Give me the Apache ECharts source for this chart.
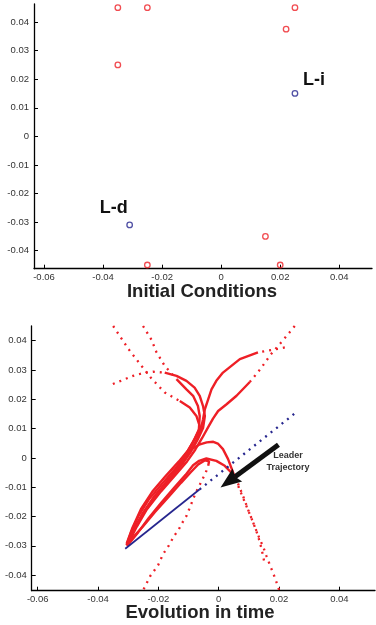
<!DOCTYPE html>
<html><head><meta charset="utf-8">
<script src="https://cdn.jsdelivr.net/npm/echarts@6/dist/echarts.min.js"></script>
<style>html,body{margin:0;padding:0;background:#fff}#c{width:376px;height:625px}</style>
</head><body><div id="c"></div>
<script>
// ---------- data ----------
const xTicks = [-0.06, -0.04, -0.02, 0, 0.02, 0.04];
const yTicks = [-0.04, -0.03, -0.02, -0.01, 0, 0.01, 0.02, 0.03, 0.04];
const panelTitles = ['Initial Conditions', 'Evolution in time'];

const followersInitial = [[-0.035,0.045],[-0.025,0.045],[0.025,0.045],[0.022,0.0375],[-0.035,0.025],[0.015,-0.035],[-0.025,-0.045],[0.02,-0.045]];
const leaderInitial = [[0.025,0.015],[-0.031,-0.031]];
const leaderNames = ['L-i', 'L-d'];

const leaderPathSparse = [[0.025,0.015],[-0.0063,-0.0107]];
const leaderPathDense = [[-0.0063,-0.0107],[-0.031,-0.031]];

const trajASparse = [[-0.035,0.045],[-0.0299,0.0371],[-0.0256,0.0314],[-0.0223,0.0271],[-0.0179,0.0223],[-0.0129,0.0194]];
const trajADense = [[-0.0129,0.0194],[-0.0096,0.0172],[-0.0074,0.0143],[-0.0062,0.0105],[-0.0078,0.0068],[-0.0102,0.0025],[-0.0132,-0.0012],[-0.0176,-0.0062],[-0.022,-0.0115],[-0.0258,-0.0175],[-0.0286,-0.0238],[-0.0305,-0.0292]];
const trajBSparse = [[-0.0251,0.045],[-0.0223,0.0403],[-0.0207,0.0362],[-0.0179,0.0314],[-0.014,0.0269]];
const trajBDense = [[-0.014,0.0269],[-0.0107,0.0234],[-0.0085,0.0212],[-0.0069,0.0177],[-0.0063,0.0143],[-0.0066,0.0095],[-0.0085,0.0055],[-0.0108,0.0015],[-0.0142,-0.0035],[-0.0188,-0.0088],[-0.0232,-0.0142],[-0.0266,-0.0198],[-0.0291,-0.0255],[-0.0305,-0.0295]];
const trajCSparse = [[-0.0351,0.0252],[-0.0317,0.0266],[-0.0284,0.028],[-0.0251,0.0289],[-0.0218,0.0294],[-0.0179,0.0291]];
const trajCDense = [[-0.0179,0.0291],[-0.014,0.028],[-0.0107,0.0263],[-0.008,0.024],[-0.0063,0.0212],[-0.0052,0.0177],[-0.0046,0.0143],[-0.0052,0.0102],[-0.007,0.0062],[-0.0092,0.0022],[-0.012,-0.002],[-0.0162,-0.0072],[-0.0208,-0.0128],[-0.025,-0.019],[-0.0282,-0.0248],[-0.0304,-0.0296]];
const trajDSparse = [[0.0252,0.045],[0.0216,0.0405],[0.0171,0.0351],[0.0138,0.0303],[0.0103,0.0259]];
const trajDDense = [[0.0103,0.0259],[0.0059,0.0212],[0.0026,0.0183],[-0.0002,0.016],[-0.0019,0.0134],[-0.0035,0.0105],[-0.0055,0.0068],[-0.0078,0.0028],[-0.0105,-0.0012],[-0.0145,-0.006],[-0.0192,-0.0115],[-0.0238,-0.0175],[-0.0272,-0.0235],[-0.0298,-0.0288],[-0.0306,-0.0299]];
const trajESparse = [[0.0219,0.0377],[0.018,0.0369],[0.013,0.036]];
const trajEDense = [[0.013,0.036],[0.007,0.0337],[0.0042,0.0314],[0.0014,0.0291],[-0.0008,0.0263],[-0.0024,0.0234],[-0.0035,0.02],[-0.0046,0.0166],[-0.0052,0.0132],[-0.006,0.0095],[-0.0075,0.0058],[-0.0098,0.0018],[-0.0125,-0.0022],[-0.0168,-0.0075],[-0.0213,-0.013],[-0.0254,-0.0192],[-0.0284,-0.0252],[-0.0304,-0.0297]];
const trajFSparse = [[0.015,-0.035],[0.0142,-0.031],[0.013,-0.0265],[0.0114,-0.022],[0.0098,-0.018],[0.0082,-0.014],[0.0068,-0.0105],[0.0057,-0.0075]];
const trajFDense = [[0.0057,-0.0075],[0.0044,-0.004],[0.0031,-0.0004],[0.0014,0.003],[-0.0003,0.0049],[-0.0018,0.0055],[-0.004,0.0053],[-0.0065,0.0045],[-0.009,0.003],[-0.011,0.0005],[-0.0135,-0.0035],[-0.0175,-0.0088],[-0.022,-0.0145],[-0.026,-0.0205],[-0.0288,-0.026],[-0.0305,-0.0298]];
const trajGSparse = [[0.02,-0.045],[0.0186,-0.0408],[0.0171,-0.0369],[0.0158,-0.0334],[0.0147,-0.0302],[0.0136,-0.0277],[0.0125,-0.0249],[0.0112,-0.0215],[0.0098,-0.0178],[0.0085,-0.0142],[0.0072,-0.0108],[0.006,-0.0078]];
const trajGDense = [[0.006,-0.0078],[0.0046,-0.0055],[0.002,-0.0027],[-0.0008,-0.001],[-0.0041,-0.0002],[-0.0065,-0.001],[-0.0085,-0.0025],[-0.011,-0.0058],[-0.0148,-0.0102],[-0.019,-0.0152],[-0.0232,-0.0205],[-0.0268,-0.0255],[-0.0302,-0.0298]];
const trajHSparse = [[-0.0249,-0.0448],[-0.0227,-0.0403],[-0.0201,-0.0366],[-0.0185,-0.0329],[-0.0165,-0.0298],[-0.0149,-0.0268],[-0.0132,-0.0243],[-0.012,-0.022],[-0.0107,-0.0198],[-0.0098,-0.0175],[-0.0085,-0.0141],[-0.0076,-0.0118],[-0.0065,-0.0096],[-0.0054,-0.0073],[-0.0043,-0.005],[-0.0035,-0.0027]];
const trajHDense = [[-0.0035,-0.0027],[-0.0032,-0.0012],[-0.0045,-0.0008],[-0.0068,-0.0022],[-0.0092,-0.0048],[-0.0125,-0.0085],[-0.0168,-0.0135],[-0.0212,-0.0185],[-0.0252,-0.0235],[-0.0285,-0.0272],[-0.0303,-0.0299]];

const arrowTail = [0.0198, 0.0045];
const arrowTip = [0.0006, -0.0101];
const arrowText = ['Leader', 'Trajectory'];

// ---------- chart ----------
const RED = '#ee1f26', BLUE = '#26268e', FONT = '"Liberation Sans", Arial, sans-serif';
const chart = echarts.init(document.getElementById('c'), null, {renderer: 'canvas'});
const fmt = v => String(+v.toFixed(4));

function xAxis(gi, min, max) {
  return {gridIndex: gi, type: 'value', min, max,
    axisLine: {show: true, onZero: false, lineStyle: {color: '#000', width: 1.3}},
    axisTick: {show: true, inside: true, length: 4, customValues: xTicks, lineStyle: {color: '#000', width: 1}},
    axisLabel: {customValues: xTicks, fontSize: 9.5, color: '#333', margin: 4, fontFamily: FONT, formatter: fmt},
    splitLine: {show: false}};
}
function yAxis(gi, min, max) {
  return {gridIndex: gi, type: 'value', min, max,
    axisLine: {show: true, onZero: false, lineStyle: {color: '#000', width: 1.3}},
    axisTick: {show: true, inside: true, length: 4, customValues: yTicks, lineStyle: {color: '#000', width: 1}},
    axisLabel: {customValues: yTicks, fontSize: 9.5, color: '#333', margin: 5, fontFamily: FONT, formatter: fmt},
    splitLine: {show: false}};
}
function sparse(data, color) {
  return {type: 'line', xAxisIndex: 1, yAxisIndex: 1, data, symbol: 'none', showSymbol: false, silent: true,
    lineStyle: {color: color || RED, width: 2.3, type: [2, 5]}, z: 3};
}
function dense(data, color, w) {
  return {type: 'line', xAxisIndex: 1, yAxisIndex: 1, data, symbol: 'none', showSymbol: false, silent: true,
    lineStyle: {color: color || RED, width: w || 2.4, type: 'solid'}, z: 3};
}

const trajs = [[trajASparse, trajADense],[trajBSparse, trajBDense],[trajCSparse, trajCDense],[trajDSparse, trajDDense],
  [trajESparse, trajEDense],[trajFSparse, trajFDense],[trajGSparse, trajGDense],[trajHSparse, trajHDense]];
const series = [];
series.push({type: 'scatter', xAxisIndex: 0, yAxisIndex: 0, data: followersInitial, symbol: 'circle', symbolSize: 5.5,
  itemStyle: {color: 'rgba(0,0,0,0)', borderColor: RED, borderWidth: 1.3}, silent: true});
series.push({type: 'scatter', xAxisIndex: 0, yAxisIndex: 0, symbol: 'circle', symbolSize: 5.5,
  itemStyle: {color: 'rgba(0,0,0,0)', borderColor: BLUE, borderWidth: 1.3}, silent: true, data: leaderInitial});
trajs.forEach(t => { series.push(sparse(t[0])); series.push(dense(t[1])); });
series.push(Object.assign(sparse(leaderPathSparse, BLUE), {z: 4}));
series.push(Object.assign(dense(leaderPathDense, BLUE, 1.7), {z: 4}));

chart.setOption({
  animation: false,
  grid: [
    {left: 34, top: 4, width: 338, height: 264.7, containLabel: false, outerBoundsMode: 'none'},
    {left: 31.7, top: 326, width: 343.3, height: 264.7, containLabel: false, outerBoundsMode: 'none'}
  ],
  xAxis: [xAxis(0, -0.0634, 0.0511), xAxis(1, -0.062, 0.0518)],
  yAxis: [yAxis(0, -0.0463, 0.0463), yAxis(1, -0.0453, 0.045)],
  series
});

// annotations
const labelOffsets = [[19, -13], [-16, -17]];
const leaderLabelGraphics = leaderInitial.map((p, i) => {
  const q = chart.convertToPixel({xAxisIndex: 0, yAxisIndex: 0}, p);
  return {type: 'text', x: q[0] + labelOffsets[i][0], y: q[1] + labelOffsets[i][1],
    style: {text: leaderNames[i], font: 'bold 18px ' + FONT, fill: '#111', align: 'center', verticalAlign: 'middle'}, z: 10};
});
const p0 = chart.convertToPixel({xAxisIndex: 1, yAxisIndex: 1}, arrowTail);
const p1 = chart.convertToPixel({xAxisIndex: 1, yAxisIndex: 1}, arrowTip);
const dx = p1[0] - p0[0], dy = p1[1] - p0[1], L = Math.hypot(dx, dy);
const ux = dx / L, uy = dy / L, nx = -uy, ny = ux;
const headLen = 21, headHalf = 8, notch = 3;
const bx = p1[0] - ux * headLen, by = p1[1] - uy * headLen;
chart.setOption({
  graphic: leaderLabelGraphics.concat([
    {type: 'line', shape: {x1: p0[0], y1: p0[1], x2: bx + ux * notch, y2: by + uy * notch}, style: {stroke: '#111', lineWidth: 5}, z: 10},
    {type: 'polygon', shape: {points: [[p1[0], p1[1]], [bx + nx * headHalf, by + ny * headHalf], [bx + ux * notch, by + uy * notch], [bx - nx * headHalf, by - ny * headHalf]]}, style: {fill: '#111'}, z: 10},
    {type: 'text', x: 288, y: 456, style: {text: arrowText[0], font: 'bold 9px ' + FONT, fill: '#333', align: 'center', verticalAlign: 'middle'}},
    {type: 'text', x: 288, y: 468, style: {text: arrowText[1], font: 'bold 9px ' + FONT, fill: '#333', align: 'center', verticalAlign: 'middle'}},
    {type: 'text', x: 202, y: 292, style: {text: panelTitles[0], font: 'bold 18.5px ' + FONT, fill: '#222', align: 'center', verticalAlign: 'middle'}},
    {type: 'text', x: 200, y: 613, style: {text: panelTitles[1], font: 'bold 18.5px ' + FONT, fill: '#222', align: 'center', verticalAlign: 'middle'}}
  ])
});
</script></body></html>
